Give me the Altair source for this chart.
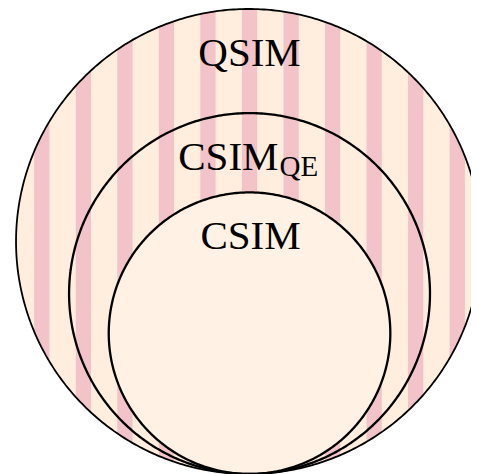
import numpy as np
import pandas as pd
import altair as alt

# ---- data (reference pixel units) ----
circle_names = ["QSIM", "CSIM_QE", "CSIM"]
circle_cx = [248.5, 249.5, 249.5]
circle_cy = [240.5, 293.0, 333.0]
circle_r = [234.5, 182.0, 142.0]

stripe_left = [32.3, 74.2, 116.1, 158.0, 199.9, 241.8, 283.7, 325.6, 367.5, 409.4, 451.3]
stripe_width = 15.4

label_main = ["QSIM", "CSIM", "CSIM"]
label_sub = ["", "QE", ""]

# ---- geometry tables built from the lists ----
t = np.linspace(0, 2 * np.pi, 481)
outline_rows, disk_rows = [], []
for name, cx, cy, r in zip(circle_names, circle_cx, circle_cy, circle_r):
    for i, a in enumerate(t):
        outline_rows.append({"name": name, "i": i, "x": cx + r * np.cos(a), "y": cy + r * np.sin(a)})
    for a in np.linspace(0, np.pi, 241):
        h = r * np.sin(a)
        disk_rows.append({"name": name, "x": cx + r * np.cos(a), "y": cy - h, "y2": cy + h})
outline = pd.DataFrame(outline_rows)
disk = pd.DataFrame(disk_rows)

ocx, ocy, orr = circle_cx[0], circle_cy[0], circle_r[0]
stripe_rows = []
for k, x0 in enumerate(stripe_left):
    for xv in np.linspace(x0, x0 + stripe_width, 40):
        h = np.sqrt(max(orr ** 2 - (xv - ocx) ** 2, 0.0))
        stripe_rows.append({"id": k, "x": xv, "y": ocy - h, "y2": ocy + h})
stripes = pd.DataFrame(stripe_rows)

labels = pd.DataFrame({
    "name": circle_names,
    "main": label_main,
    "sub": label_sub,
    "cx": circle_cx,
    "top": [cy - r for cy, r in zip(circle_cy, circle_r)],
})
labels["base"] = labels["top"] + 57.5

W, H = 463, 466
X = alt.Scale(domain=[5.9, 5.9 + W / 0.9915], nice=False, zero=False)
Y = alt.Scale(domain=[5.0, 475.0], nice=False, zero=False, reverse=True)

def xq(f="x"):
    return alt.X(f"{f}:Q", scale=X, axis=None)

def yq(f="y"):
    return alt.Y(f"{f}:Q", scale=Y, axis=None)

BG = "#FFEEDD"
STRIPE = "#F2C3C8"
INNER = "#FFF2E5"

outer_disk = alt.Chart(disk[disk.name == "QSIM"]).mark_area(orient="vertical", color=BG).encode(
    x=xq(), y=yq(), y2="y2:Q")

stripe_layer = alt.Chart(stripes).mark_area(orient="vertical", color=STRIPE).encode(
    x=xq(), y=yq(), y2="y2:Q", detail="id:N")

inner_disk = alt.Chart(disk[disk.name == "CSIM"]).mark_area(orient="vertical", color=INNER).encode(
    x=xq(), y=yq(), y2="y2:Q")

def outline_layer(name, width):
    return alt.Chart(outline[outline.name == name]).mark_line(
        color="black", strokeWidth=width, strokeJoin="round"
    ).encode(x=xq(), y=yq(), order="i:Q")

lines = [outline_layer("QSIM", 1.8), outline_layer("CSIM_QE", 2.3), outline_layer("CSIM", 2.3)]

font = "Liberation Serif"
centered = alt.Chart(labels[labels["sub"] == ""]).mark_text(
    font=font, fontSize=41, align="center", baseline="alphabetic", color="black", dx=1
).encode(x=alt.X("cx:Q", scale=X, axis=None), y=alt.Y("base:Q", scale=Y, axis=None), text="main:N")

sub_rows = labels[labels["sub"] != ""]
main_sub = alt.Chart(sub_rows).mark_text(
    font=font, fontSize=41, align="right", baseline="alphabetic", color="black", dx=29
).encode(x=alt.X("cx:Q", scale=X, axis=None), y=alt.Y("base:Q", scale=Y, axis=None), text="main:N")
sub_text = alt.Chart(sub_rows).mark_text(
    font=font, fontSize=29, align="left", baseline="alphabetic", color="black", dx=30, dy=6
).encode(x=alt.X("cx:Q", scale=X, axis=None), y=alt.Y("base:Q", scale=Y, axis=None), text="sub:N")

chart = alt.layer(outer_disk, stripe_layer, inner_disk, *lines, centered, main_sub, sub_text).properties(
    width=W, height=H, padding=0, autosize=alt.AutoSizeParams(type="none")
).configure_view(stroke=None)

chart.save("out.html", embed_options={"renderer": "svg", "actions": False})
